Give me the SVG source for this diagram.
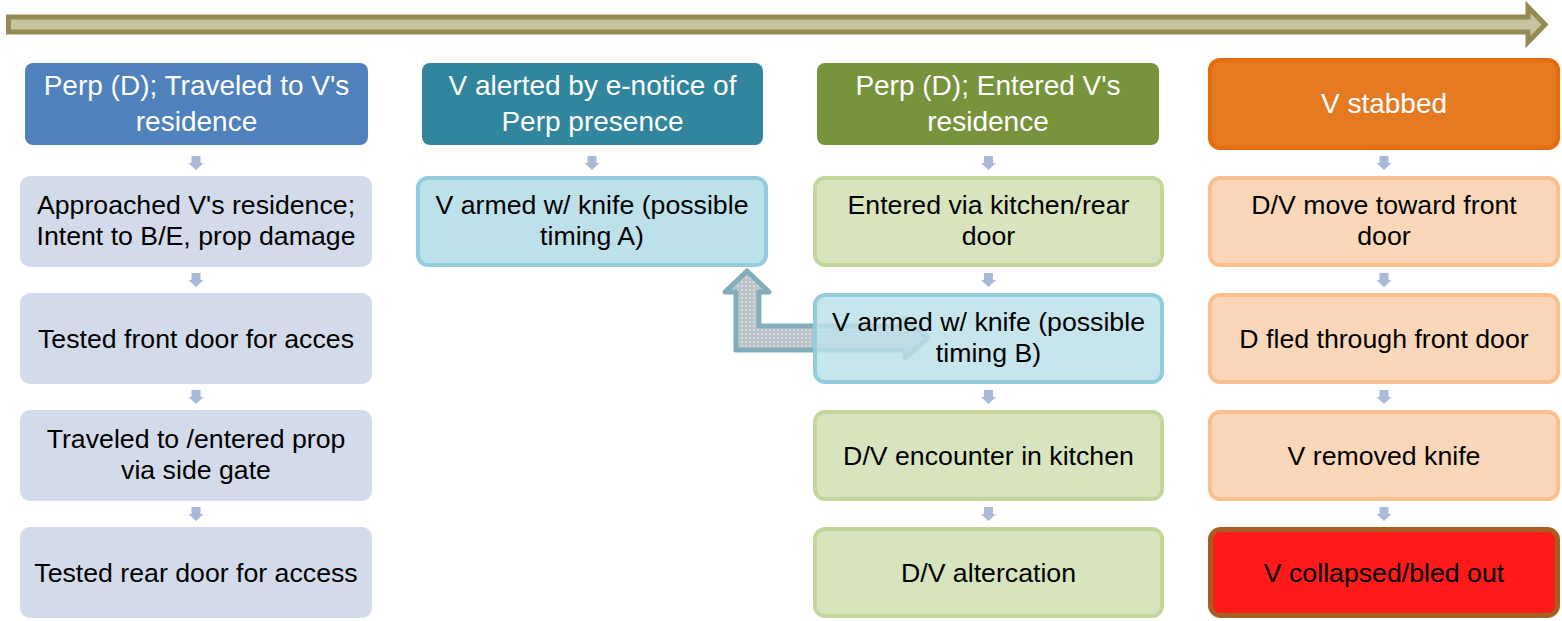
<svg xmlns="http://www.w3.org/2000/svg" width="1562" height="621" viewBox="0 0 1562 621">
<style>
text{font-family:"Liberation Sans",Arial,sans-serif;text-anchor:middle}
.h{font-size:28px;fill:#fff}
.c{font-size:26.7px;fill:#000}
.h1{fill:#4F81BD}
.h2{fill:#31859C}
.h3{fill:#77933C}
.h4{fill:#E67A22;stroke:#E46C0A;stroke-width:4}
.b1{fill:#D3DBEA}
.b2{fill:#BDE1EA;stroke:#93CDDD;stroke-width:4}
.b2t{fill:#BDE1EA;fill-opacity:0.85;stroke:#93CDDD;stroke-width:4}
.b3{fill:#D8E4BE;stroke:#C3D69B;stroke-width:4}
.b4{fill:#FBD7BA;stroke:#FAC08F;stroke-width:4}
.b5{fill:#FF1A1A;stroke:#A65E23;stroke-width:5}
.sa{fill:#A9B9D7}
</style>
<defs>
<path id="da" d="M-4.5,-7 H4.5 V0 H7.5 L0,7 L-7.5,0 H-4.5 Z"/>
<pattern id="dots" width="4" height="4" patternUnits="userSpaceOnUse">
<rect width="4" height="4" fill="#BCC3C8"/>
<circle cx="2" cy="2" r="0.9" fill="#E2E6E8"/>
</pattern>
</defs>

<g id="timeline">
<path d="M8.5,17 L1528,17 L1528,7 L1545,24.5 L1528,42 L1528,32 L8.5,32 Z" fill="#C8C29F" stroke="#948A54" stroke-width="5" stroke-linejoin="miter"/>
</g>

<g id="connectors">
<g class="sa">
<use href="#da" x="196" y="163"/><use href="#da" x="196" y="280"/><use href="#da" x="196" y="397"/><use href="#da" x="196" y="514"/>
<use href="#da" x="592" y="163"/>
<use href="#da" x="988.5" y="163"/><use href="#da" x="988.5" y="280"/><use href="#da" x="988.5" y="397"/><use href="#da" x="988.5" y="514"/>
<use href="#da" x="1384" y="163"/><use href="#da" x="1384" y="280"/><use href="#da" x="1384" y="397"/><use href="#da" x="1384" y="514"/>
</g>
<path id="bent-arrow" d="M747,271 L769,292 L759,292 L759,326 L905,326 L905,318 L928,338 L905,358 L905,350 L736,350 L736,292 L725,292 Z" fill="url(#dots)" stroke="#82ADBB" stroke-width="5" stroke-linejoin="round"/>
</g>

<g id="col1-header"><rect class="h1" x="25" y="63" width="343" height="82" rx="8"/><text class="h" x="196.5" y="95">Perp (D); Traveled to V's</text><text class="h" x="196.5" y="131">residence</text></g>
<g id="col1-r1"><rect class="b1" x="20" y="176" width="352" height="91" rx="10"/><text class="c" x="196" y="214">Approached V's residence;</text><text class="c" x="196" y="245">Intent to B/E, prop damage</text></g>
<g id="col1-r2"><rect class="b1" x="20" y="293" width="352" height="91" rx="10"/><text class="c" x="196" y="348">Tested front door for acces</text></g>
<g id="col1-r3"><rect class="b1" x="20" y="410" width="352" height="91" rx="10"/><text class="c" x="196" y="448">Traveled to /entered prop</text><text class="c" x="196" y="479">via side gate</text></g>
<g id="col1-r4"><rect class="b1" x="20" y="527" width="352" height="91" rx="10"/><text class="c" x="196" y="582">Tested rear door for access</text></g>

<g id="col2-header"><rect class="h2" x="422" y="63" width="341" height="82" rx="8"/><text class="h" x="592.5" y="95">V alerted by e-notice of</text><text class="h" x="592.5" y="131">Perp presence</text></g>
<g id="col2-r1"><rect class="b2" x="418" y="178" width="348" height="87" rx="10"/><text class="c" x="592" y="214">V armed w/ knife (possible</text><text class="c" x="592" y="245">timing A)</text></g>

<g id="col3-header"><rect class="h3" x="817" y="63" width="342" height="82" rx="8"/><text class="h" x="988" y="95">Perp (D); Entered V's</text><text class="h" x="988" y="131">residence</text></g>
<g id="col3-r1"><rect class="b3" x="815" y="178" width="347" height="87" rx="10"/><text class="c" x="988.5" y="214">Entered via kitchen/rear</text><text class="c" x="988.5" y="245">door</text></g>
<g id="col3-r2"><rect class="b2t" x="815" y="295" width="347" height="87" rx="10"/><text class="c" x="988.5" y="331">V armed w/ knife (possible</text><text class="c" x="988.5" y="362">timing B)</text></g>
<g id="col3-r3"><rect class="b3" x="815" y="412" width="347" height="87" rx="10"/><text class="c" x="988.5" y="465">D/V encounter in kitchen</text></g>
<g id="col3-r4"><rect class="b3" x="815" y="529" width="347" height="87" rx="10"/><text class="c" x="988.5" y="582">D/V altercation</text></g>

<g id="col4-header"><rect class="h4" x="1210" y="60" width="348" height="88" rx="10"/><text class="h" x="1384" y="113">V stabbed</text></g>
<g id="col4-r1"><rect class="b4" x="1210" y="178" width="348" height="87" rx="10"/><text class="c" x="1384" y="214">D/V move toward front</text><text class="c" x="1384" y="245">door</text></g>
<g id="col4-r2"><rect class="b4" x="1210" y="295" width="348" height="87" rx="10"/><text class="c" x="1384" y="348">D fled through front door</text></g>
<g id="col4-r3"><rect class="b4" x="1210" y="412" width="348" height="87" rx="10"/><text class="c" x="1384" y="465">V removed knife</text></g>
<g id="col4-r4"><rect class="b5" x="1210.5" y="529.5" width="347" height="86" rx="10"/><text class="c" x="1384" y="582">V collapsed/bled out</text></g>
</svg>
